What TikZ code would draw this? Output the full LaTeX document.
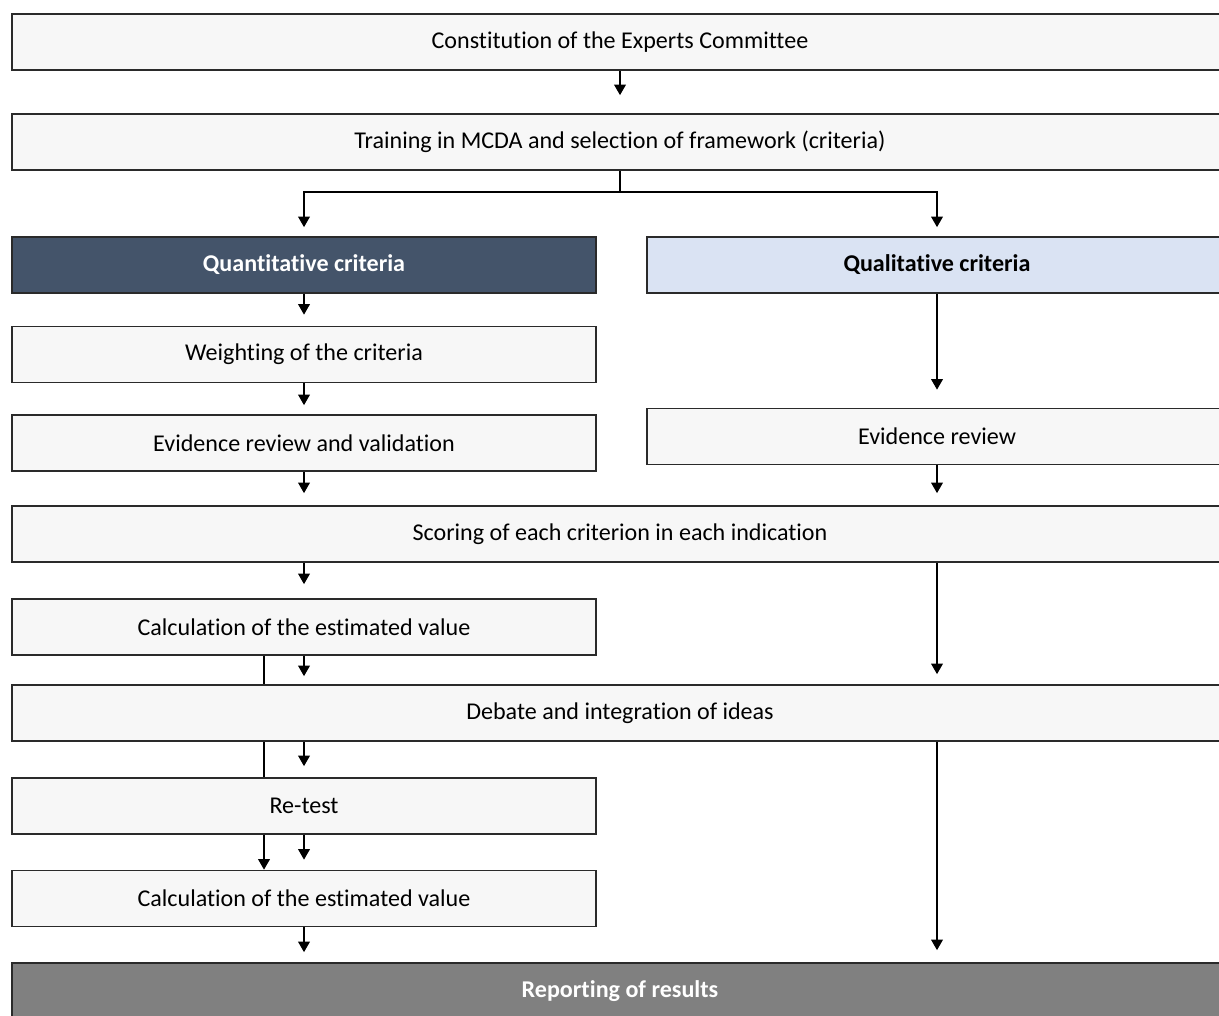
\documentclass[tikz,border=0pt]{standalone}
\usepackage{fontspec}
\setmainfont{Carlito}[RawFeature=-liga]
\usetikzlibrary{arrows.meta,calc}
\definecolor{slate}{HTML}{44546A}
\definecolor{paleblue}{HTML}{DAE3F3}
\definecolor{reportgray}{HTML}{808080}
\definecolor{boxfill}{HTML}{F7F7F7}
\definecolor{boxline}{HTML}{2A2A2A}
\tikzset{
  box/.style={draw=boxline, line width=0.9pt, fill=boxfill, minimum height=1.12cm, inner sep=0pt, font=\fontsize{13.7}{16}\selectfont},
  halfbox/.style={box, minimum width=11.68cm},
  fullbox/.style={box, minimum width=24.32cm},
  rightbox/.style={box, minimum width=11.6cm},
  arr/.style={-{Triangle[width=6.5pt,length=6pt]}, line width=1.2pt, shorten >=0.22cm},
  plain/.style={line width=1.2pt},
}
\begin{document}
\begin{tikzpicture}[x=0.02cm, y=-0.02cm]
  \useasboundingbox (0,0) rectangle (1219,1016);
  \fill[white] (0,0) rectangle (1219,1016);
  \clip (0,0) rectangle (1219,1016);
  % boxes
  \node[fullbox] (constitution) at (620,42) {Constitution of the Experts Committee};
  \node[fullbox] (training) at (620,142) {Training in MCDA and selection of framework (criteria)};
  \node[halfbox, fill=slate, text=white, font=\fontsize{13.7}{16}\selectfont\bfseries] (quant) at (304,265) {Quantitative criteria};
  \node[rightbox, fill=paleblue, font=\fontsize{13.7}{16}\selectfont\bfseries] (qual) at (937,265) {Qualitative criteria};
  \node[halfbox] (weighting) at (304,354.5) {Weighting of the criteria};
  \node[halfbox] (evidval) at (304,443) {Evidence review and validation};
  \node[rightbox] (evidrev) at (937,436.5) {Evidence review};
  \node[fullbox] (scoring) at (620,534) {Scoring of each criterion in each indication};
  \node[halfbox] (calcone) at (304,627) {Calculation of the estimated value};
  \node[fullbox] (debate) at (620,713) {Debate and integration of ideas};
  \node[halfbox] (retest) at (304,806) {Re-test};
  \node[halfbox] (calctwo) at (304,898.5) {Calculation of the estimated value};
  \node[fullbox, fill=reportgray, text=white, font=\fontsize{13.7}{16}\selectfont\bfseries] (report) at (620,991) {Reporting of results};
  % connectors
  \draw[arr, shorten >=0.36cm] (constitution) -- (training);
  \draw[plain] (training.south) -- ++(0,21) coordinate (fork);
  \draw[arr, shorten >=0.18cm] (fork) -| (quant.north);
  \draw[arr, shorten >=0.18cm] (fork) -| (qual.north);
  \draw[arr] (quant) -- (weighting);
  \draw[arr, shorten >=0.18cm] (weighting) -- (evidval);
  \draw[arr, shorten >=0.24cm] (evidval.south) -- (evidval.south |- scoring.north);
  \draw[arr, shorten >=0.36cm] (qual) -- (evidrev);
  \draw[arr, shorten >=0.24cm] (evidrev.south) -- (evidrev.south |- scoring.north);
  \draw[arr, shorten >=0.28cm] (calcone.north |- scoring.south) -- (calcone.north);
  \draw[arr, shorten >=0.2cm] (evidrev.south |- scoring.south) -- (evidrev.south |- debate.north);
  \draw[arr, shorten >=0.16cm] (calcone.south) -- (calcone.south |- debate.north);
  \draw[plain] ($(calcone.south)+(-40,0)$) coordinate (loopone) -- (loopone |- debate.north);
  \draw[arr] (retest.north |- debate.south) -- (retest.north);
  \draw[plain] (loopone |- debate.south) -- (loopone |- retest.north);
  \draw[arr, shorten >=0.2cm] (retest) -- (calctwo);
  \draw[arr, shorten >=0pt] (loopone |- retest.south) -- (loopone |- calctwo.north);
  \draw[arr, shorten >=0.2cm] (calctwo) -- (calctwo.south |- report.north);
  \draw[arr, shorten >=0.24cm] (evidrev.south |- debate.south) -- (evidrev.south |- report.north);
\end{tikzpicture}
\end{document}
